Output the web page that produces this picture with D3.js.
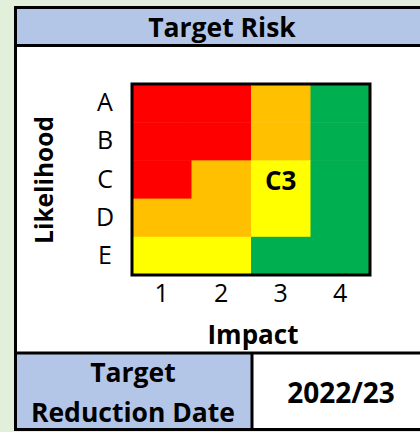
<!DOCTYPE html>
<html>
<head>
<meta charset="utf-8">
<script src="https://cdn.jsdelivr.net/npm/d3@7"></script>
<style>
  html, body { margin: 0; padding: 0; background: #e2efda; }
  svg { display: block; font-family: "Open Sans", "Noto Sans", sans-serif; }
</style>
</head>
<body>
<div id="viz"></div>
<script>
// risk matrix data
var likelihood = ['A', 'B', 'C', 'D', 'E'];
var impact = [1, 2, 3, 4];
// rating per row (A..E), per column (1..4)
var ratingA = ['red', 'red', 'amber', 'green'];
var ratingB = ['red', 'red', 'amber', 'green'];
var ratingC = ['red', 'amber', 'yellow', 'green'];
var ratingD = ['amber', 'amber', 'yellow', 'green'];
var ratingE = ['yellow', 'yellow', 'green', 'green'];
var targetCell = 'C3';
var title = 'Target Risk';
var dateLabel = ['Target', 'Reduction Date'];
var dateValue = '2022/23';

var ratings = [ratingA, ratingB, ratingC, ratingD, ratingE];
var cells = [];
for (var r = 0; r < likelihood.length; r++) {
  for (var c = 0; c < impact.length; c++) {
    cells.push({ row: likelihood[r], col: impact[c], rating: ratings[r][c] });
  }
}

var width = 420, height = 432;
var grid = { left: 132, right: 370, top: 84, bottom: 275 };

var colors = d3.scaleOrdinal()
  .domain(['red', 'amber', 'yellow', 'green'])
  .range(['#ff0000', '#ffc000', '#ffff00', '#00b050']);

var xScale = d3.scaleBand().domain(impact).range([grid.left, grid.right]);
var yScale = d3.scaleBand().domain(likelihood).range([grid.top, grid.bottom]);

var svg = d3.select('#viz').append('svg')
  .attr('width', width)
  .attr('height', height);

// table background
svg.append('rect')
  .attr('x', 15).attr('y', 7)
  .attr('width', width).attr('height', 422)
  .attr('fill', '#fff');

// header band
svg.append('rect')
  .attr('x', 15).attr('y', 7)
  .attr('width', width).attr('height', 39)
  .attr('fill', '#b4c6e7');

svg.append('text')
  .attr('x', 222).attr('y', 27)
  .attr('text-anchor', 'middle')
  .attr('dominant-baseline', 'central')
  .style('font-size', '26.5px')
  .style('font-weight', 'bold')
  .text(title);

// footer blue cell
svg.append('rect')
  .attr('x', 15).attr('y', 353)
  .attr('width', 237).attr('height', 76)
  .attr('fill', '#b4c6e7');

// cells
svg.append('g').selectAll('rect').data(cells)
  .enter().append('rect')
    .attr('x', function(d) { return xScale(d.col); })
    .attr('y', function(d) { return yScale(d.row); })
    .attr('width', xScale.bandwidth() + 0.5)
    .attr('height', yScale.bandwidth() + 0.5)
    .attr('fill', function(d) { return colors(d.rating); });

// grid border
svg.append('rect')
  .attr('x', grid.left).attr('y', grid.top)
  .attr('width', grid.right - grid.left)
  .attr('height', grid.bottom - grid.top)
  .attr('fill', 'none')
  .attr('stroke', '#000')
  .attr('stroke-width', 3);

// target label
svg.append('text')
  .attr('x', xScale(+targetCell[1]) + xScale.bandwidth() / 2)
  .attr('y', yScale(targetCell[0]) + yScale.bandwidth() / 2)
  .attr('text-anchor', 'middle')
  .attr('dominant-baseline', 'central')
  .style('font-size', '26px')
  .style('font-weight', 'bold')
  .text(targetCell);

// axes
var yAxis = svg.append('g')
  .attr('transform', 'translate(' + grid.left + ',0)')
  .call(d3.axisLeft(yScale).tickSize(0).tickPadding(27));
yAxis.select('.domain').remove();
yAxis.selectAll('text')
  .attr('text-anchor', 'middle')
  .style('font-family', '"Open Sans", sans-serif')
  .style('font-size', '25px')
  .attr('fill', '#000');

var xAxis = svg.append('g')
  .attr('transform', 'translate(0,' + grid.bottom + ')')
  .call(d3.axisBottom(xScale).tickSize(0).tickPadding(9));
xAxis.select('.domain').remove();
xAxis.selectAll('text')
  .style('font-family', '"Open Sans", sans-serif')
  .style('font-size', '25px')
  .attr('fill', '#000');

svg.append('text')
  .attr('x', 253).attr('y', 334)
  .attr('text-anchor', 'middle')
  .attr('dominant-baseline', 'central')
  .style('font-size', '26px')
  .style('font-weight', 'bold')
  .text('Impact');

svg.append('text')
  .attr('transform', 'translate(43,180) rotate(-90)')
  .attr('text-anchor', 'middle')
  .attr('dominant-baseline', 'central')
  .style('font-size', '24.5px')
  .style('font-weight', 'bold')
  .text('Likelihood');

// footer text
svg.append('g').selectAll('text').data(dateLabel)
  .enter().append('text')
    .attr('x', 133)
    .attr('y', function(d, i) { return 372 + i * 40; })
    .attr('text-anchor', 'middle')
    .attr('dominant-baseline', 'central')
    .style('font-size', '26.5px')
    .style('font-weight', 'bold')
    .text(function(d) { return d; });

svg.append('text')
  .attr('x', 341).attr('y', 392)
  .attr('text-anchor', 'middle')
  .attr('dominant-baseline', 'central')
  .style('font-size', '28px')
  .style('font-weight', 'bold')
  .text(dateValue);

// table lines
var lines = [
  [15, 7.5, width, 7.5],
  [15, 45.5, width, 45.5],
  [15, 353, width, 353],
  [15, 429.5, width, 429.5],
  [252, 353, 252, 429.5],
  [15.5, 6, 15.5, 431]
];
svg.append('g').selectAll('line').data(lines)
  .enter().append('line')
    .attr('x1', function(d) { return d[0]; })
    .attr('y1', function(d) { return d[1]; })
    .attr('x2', function(d) { return d[2]; })
    .attr('y2', function(d) { return d[3]; })
    .attr('stroke', '#000')
    .attr('stroke-width', 3);
</script>
</body>
</html>
